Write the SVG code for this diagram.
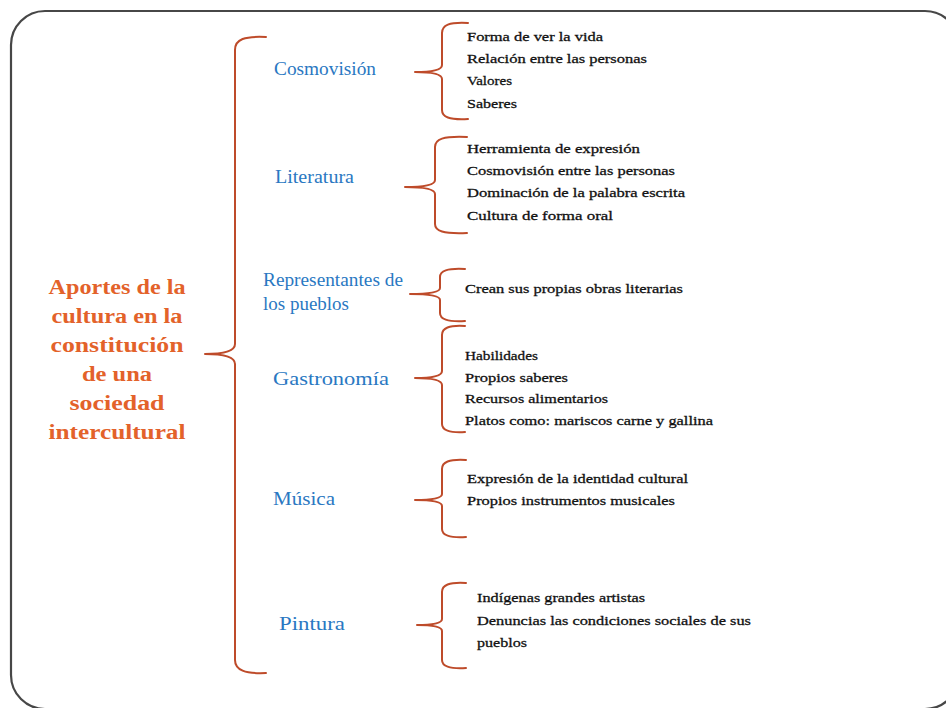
<svg xmlns="http://www.w3.org/2000/svg" width="946" height="708" viewBox="0 0 946 708">
<style>
.brace{fill:none;stroke:#BE4B2A;stroke-width:2;stroke-linecap:round;stroke-linejoin:round}
.title{font-family:"Liberation Serif","Times New Roman",serif;font-weight:bold;font-size:20px;fill:#E3622A;text-anchor:middle}
.cat{font-family:"Liberation Serif","Times New Roman",serif;font-size:18px;fill:#2A78C2}
.item{font-family:"Liberation Serif","Times New Roman",serif;font-size:13.5px;fill:#111;stroke:#111;stroke-width:0.3}
</style>
<rect x="0" y="0" width="946" height="708" fill="#fff"/>
<rect x="11" y="11" width="948" height="698" rx="34" ry="34" fill="#fff" stroke="#474747" stroke-width="2.2"/>

<g id="root">
<text class="title" x="117" y="294" textLength="137" lengthAdjust="spacingAndGlyphs">Aportes de la</text>
<text class="title" x="117" y="323" textLength="131" lengthAdjust="spacingAndGlyphs">cultura en la</text>
<text class="title" x="117" y="352" textLength="133" lengthAdjust="spacingAndGlyphs">constitución</text>
<text class="title" x="117" y="381" textLength="70" lengthAdjust="spacingAndGlyphs">de una</text>
<text class="title" x="117" y="410" textLength="95" lengthAdjust="spacingAndGlyphs">sociedad</text>
<text class="title" x="117" y="439" textLength="137" lengthAdjust="spacingAndGlyphs">intercultural</text>
</g>

<g id="connectors">
<path class="brace" d="M266,37 C245,36 235,39 235,50 L235,344 C235,351 224,354 205,354 C224,354 235,357 235,364 L235,660 C235,670 245,674 266,673"/>
<path class="brace" d="M468,23 C449,22 442,25 442,33 L442,65 C442,70 433,72 415,72 C433,72 442,74 442,79 L442,110 C442,117 449,120 468,119"/>
<path class="brace" d="M467,137 C443,136 435,139 435,147 L435,180 C435,185 424,187 405,187 C424,187 435,189 435,194 L435,224 C435,231 443,234 467,233"/>
<path class="brace" d="M465,269 C447,268 440,271 440,277 L440,288 C440,292 429,294 410,294 C429,294 440,296 440,300 L440,313 C440,319 447,322 465,321"/>
<path class="brace" d="M465,326 C449,325 442,328 442,335 L442,371 C442,376 432,378 415,378 C432,378 442,380 442,385 L442,424 C442,430 449,433 465,432"/>
<path class="brace" d="M466,460 C449,459 442,462 442,469 L442,494 C442,498 432,500 415,500 C432,500 442,502 442,506 L442,529 C442,535 449,538 466,537"/>
<path class="brace" d="M466,583 C449,582 442,585 442,592 L442,619 C442,623 433,625 417,625 C433,625 442,627 442,631 L442,660 C442,666 449,669 466,668"/>
</g>

<g id="cosmovision">
<text class="cat" x="274" y="75" textLength="102" lengthAdjust="spacingAndGlyphs">Cosmovisión</text>
<text class="item" x="467" y="41" textLength="136" lengthAdjust="spacingAndGlyphs">Forma  de ver la vida</text>
<text class="item" x="467" y="63" textLength="180" lengthAdjust="spacingAndGlyphs">Relación  entre las personas</text>
<text class="item" x="467" y="85" textLength="45" lengthAdjust="spacingAndGlyphs">Valores</text>
<text class="item" x="467" y="108" textLength="50" lengthAdjust="spacingAndGlyphs">Saberes</text>
</g>

<g id="literatura">
<text class="cat" x="275" y="183" textLength="79" lengthAdjust="spacingAndGlyphs">Literatura</text>
<text class="item" x="467" y="153" textLength="173" lengthAdjust="spacingAndGlyphs">Herramienta  de expresión</text>
<text class="item" x="467" y="175" textLength="208" lengthAdjust="spacingAndGlyphs">Cosmovisión  entre las personas</text>
<text class="item" x="467" y="197" textLength="218" lengthAdjust="spacingAndGlyphs">Dominación  de la palabra  escrita</text>
<text class="item" x="467" y="220" textLength="146" lengthAdjust="spacingAndGlyphs">Cultura de forma  oral</text>
</g>

<g id="representantes">
<text class="cat" x="263" y="286" textLength="140" lengthAdjust="spacingAndGlyphs">Representantes de</text>
<text class="cat" x="263" y="310" textLength="86" lengthAdjust="spacingAndGlyphs">los pueblos</text>
<text class="item" x="465" y="293" textLength="218" lengthAdjust="spacingAndGlyphs">Crean sus propias obras literarias</text>
</g>

<g id="gastronomia">
<text class="cat" x="273" y="385" textLength="116" lengthAdjust="spacingAndGlyphs">Gastronomía</text>
<text class="item" x="465" y="360" textLength="73" lengthAdjust="spacingAndGlyphs">Habilidades</text>
<text class="item" x="465" y="382" textLength="103" lengthAdjust="spacingAndGlyphs">Propios  saberes</text>
<text class="item" x="465" y="403" textLength="143" lengthAdjust="spacingAndGlyphs">Recursos  alimentarios</text>
<text class="item" x="465" y="425" textLength="248" lengthAdjust="spacingAndGlyphs">Platos como:  mariscos  carne  y gallina</text>
</g>

<g id="musica">
<text class="cat" x="273" y="505" textLength="62" lengthAdjust="spacingAndGlyphs">Música</text>
<text class="item" x="467" y="483" textLength="221" lengthAdjust="spacingAndGlyphs">Expresión de la identidad cultural</text>
<text class="item" x="467" y="505" textLength="208" lengthAdjust="spacingAndGlyphs">Propios instrumentos musicales</text>
</g>

<g id="pintura">
<text class="cat" x="279" y="630" textLength="66" lengthAdjust="spacingAndGlyphs">Pintura</text>
<text class="item" x="477" y="602" textLength="168" lengthAdjust="spacingAndGlyphs">Indígenas grandes artistas</text>
<text class="item" x="477" y="625" textLength="274" lengthAdjust="spacingAndGlyphs">Denuncias las condiciones sociales de sus</text>
<text class="item" x="477" y="647" textLength="50" lengthAdjust="spacingAndGlyphs">pueblos</text>
</g>
</svg>
